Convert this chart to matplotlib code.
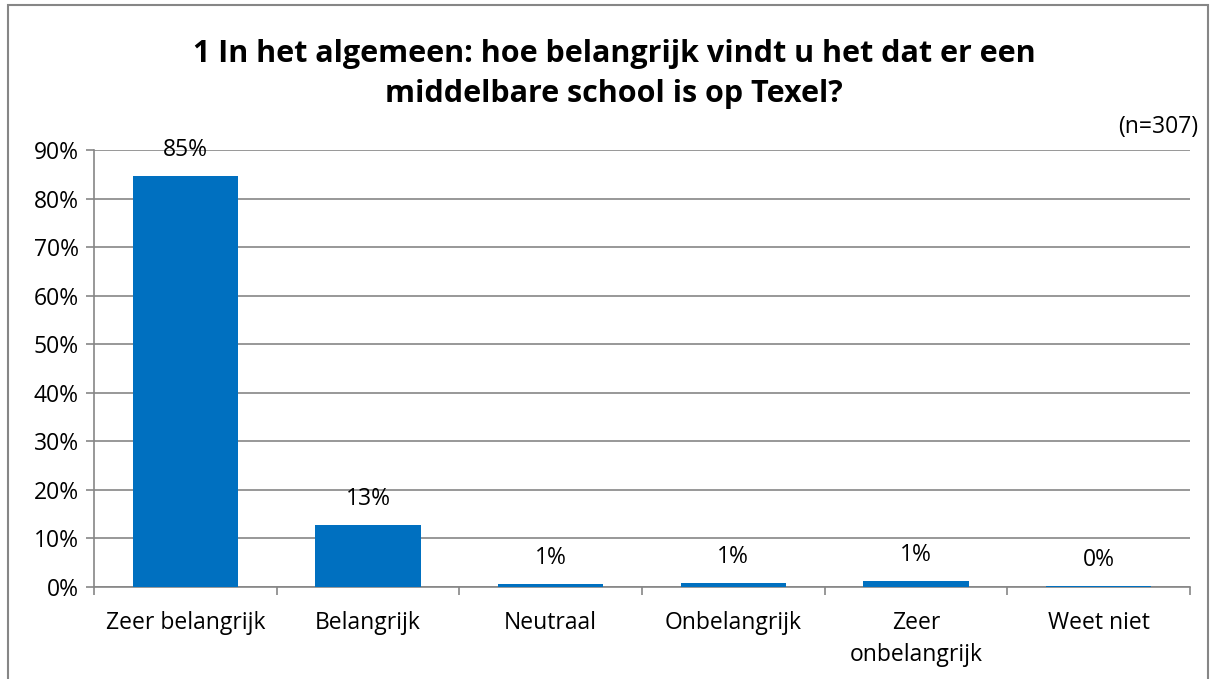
import matplotlib.pyplot as plt
from matplotlib.patches import Rectangle

categories = ["Zeer belangrijk", "Belangrijk", "Neutraal", "Onbelangrijk", "Zeer\nonbelangrijk", "Weet niet"]
values = [84.7, 12.7, 0.7, 0.8, 1.3, 0.3]
labels = ["85%", "13%", "1%", "1%", "1%", "0%"]
title = "1 In het algemeen: hoe belangrijk vindt u het dat er een\nmiddelbare school is op Texel?"
note = "(n=307)"

plt.rcParams['font.family'] = ['Open Sans', 'DejaVu Sans']
grey = "#868686"
fs = 16.5

fig = plt.figure(figsize=(12.14, 6.79), dpi=100)
ax = fig.add_axes([94 / 1214, 1 - 587 / 679, 1096 / 1214, 437 / 679])

x = range(len(categories))
bars = ax.bar(x, values, width=0.575, color="#0070C0", zorder=3)
for b, lab in zip(bars, labels):
    ax.annotate(lab, (b.get_x() + b.get_width() / 2, b.get_height()),
                textcoords="offset points", xytext=(0, 10), ha="center",
                va="bottom", fontsize=fs)

ax.set_xlim(-0.5, len(categories) - 0.5)
ax.set_ylim(0, 90)
ax.set_yticks(range(0, 91, 10))
ax.set_yticklabels([f"{v}%" for v in range(0, 91, 10)], fontsize=fs)
ax.yaxis.grid(True, color=grey, linewidth=1.2, zorder=0)

ax.set_xticks(list(x))
ax.set_xticklabels(categories, fontsize=fs, linespacing=1.45)
ax.set_xticks([i - 0.5 for i in range(len(categories) + 1)], minor=True)
ax.tick_params(axis="x", which="major", length=0, pad=17)
ax.tick_params(axis="x", which="minor", length=6, color=grey, width=1.2)
ax.tick_params(axis="y", length=6, color=grey, width=1.2, pad=5)

for s in ["top", "right"]:
    ax.spines[s].set_visible(False)
for s in ["left", "bottom"]:
    ax.spines[s].set_color(grey)
    ax.spines[s].set_linewidth(1.2)

fig.text(0.506, 1 - 74 / 679, title, ha="center", va="center",
         fontsize=22, fontweight="bold", linespacing=1.4)
fig.text(1198 / 1214, 1 - 127 / 679, note, ha="right", va="center", fontsize=fs)

fig.patches.append(Rectangle((8 / 1214, -0.05), 1200 / 1214, 1.04 - 5 / 679 + 0.01,
                             transform=fig.transFigure, fill=False,
                             edgecolor=grey, linewidth=1.5))

fig.savefig("out.png", dpi=100)
